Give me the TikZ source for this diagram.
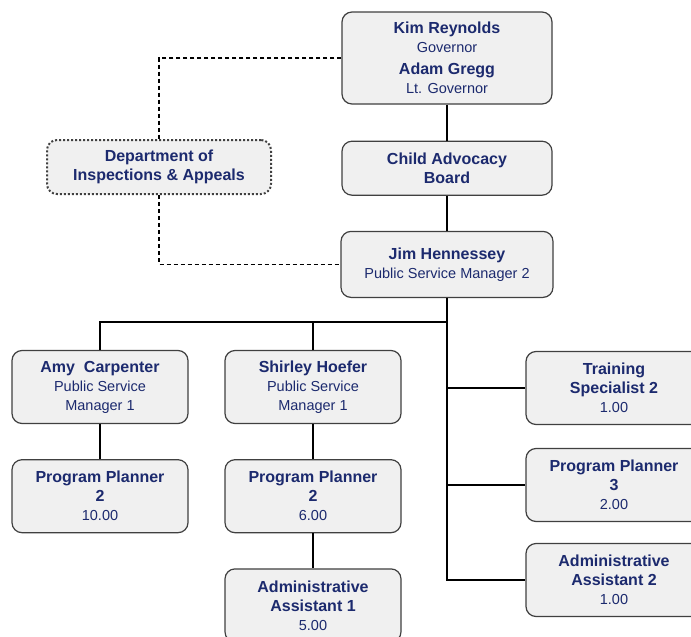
\documentclass[tikz,border=0pt]{standalone}
\usepackage{fontspec}
\setmainfont{Liberation Sans}
\usetikzlibrary{positioning}

\definecolor{navy}{RGB}{28,42,110}
\definecolor{boxfill}{RGB}{240,240,240}
\definecolor{boxline}{RGB}{64,64,64}
\newcommand{\nm}[1]{{\fontsize{16}{19.5}\selectfont\bfseries #1}}

\begin{document}
\begin{tikzpicture}[x=1pt, y=-1pt, node distance=35pt,
    box/.style = {draw=boxline, line width=1.2pt, fill=boxfill, rounded corners=10pt,
        text=navy, align=center, minimum width=176pt, minimum height=73pt,
        inner sep=2pt, font=\fontsize{14.5}{19}\selectfont},
    conn/.style = {line width=2pt},
    dashline/.style = {line width=1.8pt, dash pattern=on 4pt off 3pt}]
    \useasboundingbox (0,0) rectangle (691,637);
    \clip (0,0) rectangle (691,637);

    % Top of the chart
    \node[box, minimum width=210pt, minimum height=92pt] (gov) at (447,58)
        {\nm{Kim Reynolds}\\Governor\\[3pt]\nm{Adam Gregg}\\Lt. Governor};
    \node[box, minimum width=210pt, minimum height=54pt] (cab) [below=36pt of gov]
        {\nm{Child Advocacy}\\\nm{Board}};
    \node[box, minimum width=212pt, minimum height=66pt] (jim) [below=35pt of cab]
        {\nm{Jim Hennessey}\\Public Service Manager 2};
    \node[box, line width=2pt, dash pattern=on 2pt off 2pt, minimum width=224pt,
        minimum height=54pt] (dept) at (159,167)
        {\nm{Department of}\\\nm{Inspections \& Appeals}};

    % Left branches
    \node[box] (amy) at (100,387) {\nm{Amy\ \ Carpenter}\\Public Service\\Manager 1};
    \node[box] (pp2a) [below=of amy] {\nm{Program Planner}\\\nm{2}\\10.00};
    \node[box] (shirley) at (313,387) {\nm{Shirley Hoefer}\\Public Service\\Manager 1};
    \node[box] (pp2b) [below=of shirley] {\nm{Program Planner}\\\nm{2}\\6.00};
    \node[box] (aa1) [below=of pp2b] {\nm{Administrative}\\\nm{Assistant 1}\\5.00};

    % Right column
    \node[box] (ts) at (614,388) {\nm{Training}\\\nm{Specialist 2}\\1.00};
    \node[box] (pp3) at (614,485) {\nm{Program Planner}\\\nm{3}\\2.00};
    \node[box] (aa2) at (614,580) {\nm{Administrative}\\\nm{Assistant 2}\\1.00};

    % Lines
    \coordinate (hub) at (447,322);
    \draw[conn] (gov) -- (cab);
    \draw[conn] (cab) -- (jim);
    \draw[dashline] (gov.west) -| (dept.north);
    \draw[dashline] (dept.south) |- (jim.west);
    \draw[conn] (jim) -- (hub);
    \draw[conn] (hub) -| (amy.north);
    \draw[conn] (hub) -| (shirley.north);
    \draw[conn] (hub) |- (ts.west);
    \draw[conn] (hub) |- (pp3.west);
    \draw[conn] (hub) |- (aa2.west);
    \draw[conn] (amy) -- (pp2a);
    \draw[conn] (shirley) -- (pp2b);
    \draw[conn] (pp2b) -- (aa1);
\end{tikzpicture}
\end{document}
